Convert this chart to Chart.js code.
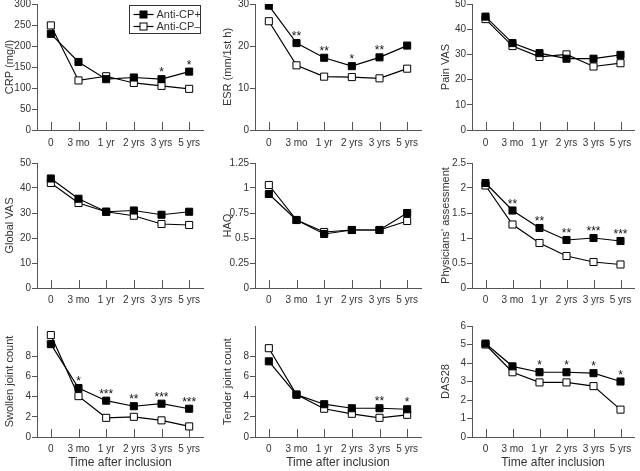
<!DOCTYPE html>
<html>
<head>
<meta charset="utf-8">
<script src="https://cdn.jsdelivr.net/npm/chart.js@4/dist/chart.umd.min.js"></script>
<style>
  html, body { margin: 0; padding: 0; background: #fff; overflow: hidden; }
  body { width: 640px; height: 471px; position: relative; }
  canvas { position: absolute; }
</style>
</head>
<body>
<script>
// time points after inclusion
const timepoints = ['0', '3 mo', '1 yr', '2 yrs', '3 yrs', '5 yrs'];

// Anti-CP+ (filled) / Anti-CP- (open) series and significance marks
const crpPos = [229, 162, 121, 125, 121, 139];
const crpNeg = [249, 118, 128, 112, 105, 98];
const crpStars = ['', '', '', '', '*', '*'];

const esrPos = [29.6, 20.7, 17.2, 15.2, 17.3, 20.1];
const esrNeg = [25.9, 15.4, 12.7, 12.6, 12.3, 14.6];
const esrStars = ['', '**', '**', '*', '**', ''];

const painPos = [45, 34.5, 30.5, 28.3, 28.3, 29.8];
const painNeg = [44, 33.3, 29, 30, 25.2, 26.5];
const painStars = ['', '', '', '', '', ''];

const globalPos = [43.8, 35.7, 30.5, 31, 29.3, 30.5];
const globalNeg = [42, 34, 30.5, 28.9, 25.6, 25.2];
const globalStars = ['', '', '', '', '', ''];

const haqPos = [0.94, 0.68, 0.54, 0.58, 0.58, 0.75];
const haqNeg = [1.03, 0.68, 0.56, 0.58, 0.58, 0.67];
const haqStars = ['', '', '', '', '', ''];

const physPos = [2.1, 1.55, 1.2, 0.96, 1.0, 0.94];
const physNeg = [2.05, 1.27, 0.9, 0.64, 0.52, 0.47];
const physStars = ['', '**', '**', '**', '***', '***'];

const swollenPos = [9.2, 4.85, 3.6, 3.05, 3.3, 2.8];
const swollenNeg = [10.1, 4.05, 1.9, 2.0, 1.65, 1.05];
const swollenStars = ['', '*', '***', '**', '***', '***'];

const tenderPos = [7.5, 4.2, 3.25, 2.85, 2.85, 2.75];
const tenderNeg = [8.8, 4.2, 2.8, 2.3, 1.9, 2.2];
const tenderStars = ['', '', '', '', '**', '*'];

const dasPos = [5.05, 3.82, 3.5, 3.5, 3.45, 3.0];
const dasNeg = [5.0, 3.5, 2.95, 2.95, 2.75, 1.48];
const dasStars = ['', '', '*', '*', '*', '*'];

const legendLabels = ['Anti-CP+', 'Anti-CP\u2013'];

const axisColor = '#555';
const textColor = '#333';
const fontFamily = '"Liberation Sans", Arial, sans-serif';
const tickFamily = '"Liberation Sans Narrow", "Liberation Sans", Arial, sans-serif';

// column / row geometry (page pixels)
const cols = [
	{ left: 0, width: 215, axis: 37, end: 203 },
	{ left: 218, width: 215, axis: 255, end: 421 },
	{ left: 436, width: 204, axis: 472, end: 638 },
];
const rows = [
	{ top: -10, height: 165, plotTop: 4, plotBottom: 130, xTitle: false, pad: 7 },
	{ top: 150, height: 160, plotTop: 163, plotBottom: 288, xTitle: false, pad: 6 },
	{ top: 310, height: 161, plotTop: 326, plotBottom: 437, xTitle: true, pad: 6 },
];

const panels = [
	{ title: 'CRP (mg/l)', pos: crpPos, neg: crpNeg, stars: crpStars, max: 300, step: 50, legend: true },
	{ title: 'ESR (mm/1st h)', pos: esrPos, neg: esrNeg, stars: esrStars, max: 30, step: 10 },
	{ title: 'Pain VAS', pos: painPos, neg: painNeg, stars: painStars, max: 50, step: 10 },
	{ title: 'Global VAS', pos: globalPos, neg: globalNeg, stars: globalStars, max: 50, step: 10 },
	{ title: 'HAQ', pos: haqPos, neg: haqNeg, stars: haqStars, max: 1.25, step: 0.25 },
	{ title: 'Physicians\u2019 assessment', pos: physPos, neg: physNeg, stars: physStars, max: 2.5, step: 0.5 },
	{ title: 'Swollen joint count', pos: swollenPos, neg: swollenNeg, stars: swollenStars, max: 11, step: 2, tickMax: 10 },
	{ title: 'Tender joint count', pos: tenderPos, neg: tenderNeg, stars: tenderStars, max: 11, step: 2, tickMax: 10 },
	{ title: 'DAS28', pos: dasPos, neg: dasNeg, stars: dasStars, max: 6, step: 1 },
];

// small tick marks pointing up into the plot from the x axis
const innerTicks = {
	id: 'innerTicks',
	beforeDatasetsDraw( chart ) {
		const xs = chart.scales.x;
		const ctx = chart.ctx;
		const y0 = chart.chartArea.bottom;
		ctx.save();
		ctx.strokeStyle = axisColor;
		ctx.lineWidth = 1;
		xs.ticks.forEach( ( t, i ) => {
			const px = Math.round( xs.getPixelForTick( i ) ) + 0.5;
			ctx.beginPath();
			ctx.moveTo( px, y0 );
			ctx.lineTo( px, y0 - 8 );
			ctx.stroke();
		} );
		ctx.restore();
	},
};

// asterisks above the points
const starMarks = {
	id: 'starMarks',
	afterDatasetsDraw( chart, args, opts ) {
		const ctx = chart.ctx;
		const a = chart.getDatasetMeta( 0 ).data;
		const b = chart.getDatasetMeta( 1 ).data;
		ctx.save();
		ctx.fillStyle = '#111';
		ctx.font = '12px ' + fontFamily;
		ctx.textAlign = 'center';
		ctx.textBaseline = 'alphabetic';
		( opts.stars || [] ).forEach( ( s, i ) => {
			if ( !s ) return;
			const y = Math.min( a[ i ].y, b[ i ].y );
			ctx.fillText( s, a[ i ].x, y - 3 );
		} );
		ctx.restore();
	},
};

// boxed legend with line + marker samples
const boxLegend = {
	id: 'boxLegend',
	afterDraw( chart, args, opts ) {
		if ( !opts.show ) return;
		const ctx = chart.ctx;
		const area = chart.chartArea;
		const x0 = area.right - 73.5;
		const y0 = area.top + 1.5;
		ctx.save();
		ctx.strokeStyle = '#333';
		ctx.lineWidth = 1;
		ctx.strokeRect( x0, y0, 71, 28 );
		ctx.font = '11px ' + fontFamily;
		ctx.textBaseline = 'middle';
		ctx.fillStyle = textColor;
		chart.data.datasets.forEach( ( ds, i ) => {
			const y = Math.round( y0 + 8 + i * 12 ) + 0.5;
			ctx.strokeStyle = '#000';
			ctx.lineWidth = 1.2;
			ctx.beginPath();
			ctx.moveTo( x0 + 4, y );
			ctx.lineTo( x0 + 24, y );
			ctx.stroke();
			ctx.lineWidth = 1;
			ctx.fillStyle = ds.pointBackgroundColor;
			ctx.fillRect( x0 + 10.5, y - 3.5, 7, 7 );
			ctx.strokeRect( x0 + 10.5, y - 3.5, 7, 7 );
			ctx.fillStyle = textColor;
			ctx.fillText( legendLabels[ i ], x0 + 27, y + 0.5 );
		} );
		ctx.restore();
	},
};

// plain number labels: 0, 0.25, 0.5, 1, 1.25 ...
const plainNumber = ( v ) => String( Number( Number( v ).toFixed( 2 ) ) );

panels.forEach( ( p, n ) => {
	const col = cols[ n % 3 ];
	const row = rows[ Math.floor( n / 3 ) ];
	const canvas = document.createElement( 'canvas' );
	canvas.width = col.width;
	canvas.height = row.height;
	canvas.style.left = col.left + 'px';
	canvas.style.top = row.top + 'px';
	document.body.appendChild( canvas );

	const yWidth = col.axis - col.left;
	const xHeight = row.top + row.height - row.plotBottom;

	new Chart( canvas, {
		type: 'line',
		data: {
			labels: timepoints,
			datasets: [
				{
					label: legendLabels[ 0 ],
					data: p.pos,
					borderColor: '#000',
					borderWidth: 1.2,
					pointStyle: 'rect',
					pointRadius: 5,
					pointBorderWidth: 1,
					pointBorderColor: '#000',
					pointBackgroundColor: '#000',
					tension: 0,
				},
				{
					label: legendLabels[ 1 ],
					data: p.neg,
					borderColor: '#000',
					borderWidth: 1.2,
					pointStyle: 'rect',
					pointRadius: 5,
					pointBorderWidth: 1,
					pointBorderColor: '#000',
					pointBackgroundColor: '#fff',
					tension: 0,
				},
			],
		},
		options: {
			responsive: false,
			animation: false,
			layout: {
				padding: {
					left: 0,
					right: col.left + col.width - col.end,
					top: row.plotTop - row.top,
					bottom: 0,
				},
			},
			plugins: {
				legend: { display: false },
				tooltip: { enabled: false },
				starMarks: { stars: p.stars },
				boxLegend: { show: !!p.legend },
			},
			scales: {
				x: {
					offset: true,
					grid: { display: false, drawTicks: false, tickLength: 0 },
					border: { display: true, color: axisColor, width: 1 },
					ticks: {
						color: textColor,
						font: { family: tickFamily, size: 10 },
						padding: row.pad,
						maxRotation: 0,
						autoSkip: false,
					},
					title: {
						display: row.xTitle,
						text: 'Time after inclusion',
						color: textColor,
						font: { family: fontFamily, size: 12 },
						padding: { top: 2, bottom: 1 },
					},
					afterFit: ( s ) => { s.height = xHeight; },
				},
				y: {
					min: 0,
					max: p.max,
					grid: { drawOnChartArea: false, drawTicks: true, tickLength: 5, color: axisColor },
					border: { display: true, color: axisColor, width: 1 },
					ticks: {
						stepSize: p.step,
						color: textColor,
						font: { family: tickFamily, size: 10 },
						padding: 1,
						callback: plainNumber,
					},
					title: {
						display: true,
						text: p.title,
						color: textColor,
						font: { family: fontFamily, size: 11 },
						padding: 3,
					},
					afterBuildTicks: ( s ) => {
						if ( p.tickMax !== undefined ) {
							s.ticks = s.ticks.filter( ( t ) => t.value <= p.tickMax );
						}
					},
					afterFit: ( s ) => { s.width = yWidth; },
				},
			},
		},
		plugins: [ innerTicks, starMarks, boxLegend ],
	} );
} );
</script>
</body>
</html>
